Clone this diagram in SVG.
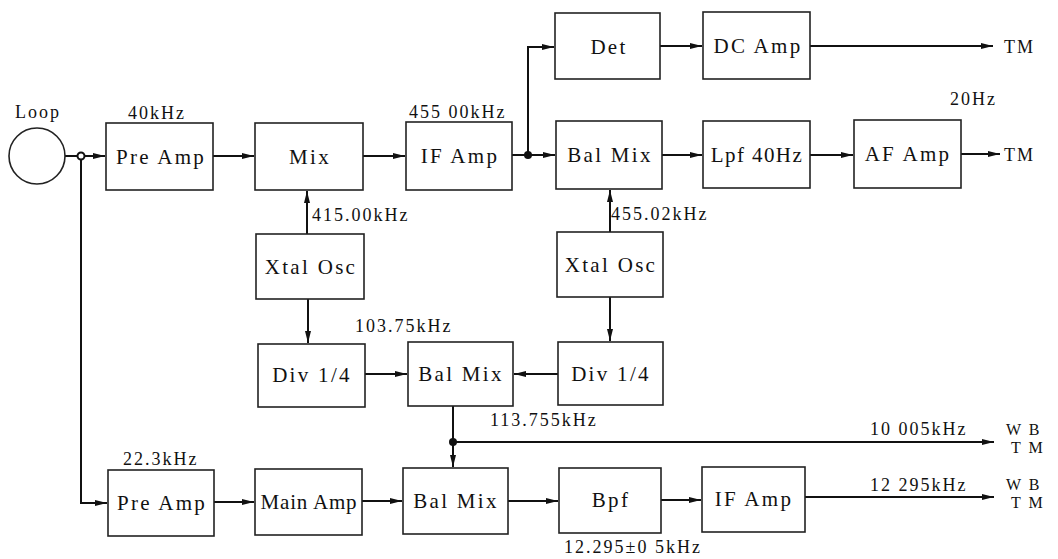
<svg xmlns="http://www.w3.org/2000/svg" width="1058" height="559" viewBox="0 0 1058 559">
<style>
.b{fill:#fff;stroke:#222;stroke-width:1.6}
.t{font-size:21px;fill:#111;text-anchor:middle;letter-spacing:2.3px}
.l{font-size:18px;fill:#111;letter-spacing:2px}
.w{font-size:16px;fill:#111;letter-spacing:2px}
.c{fill:none;stroke:#111;stroke-width:2}
</style>
<defs>
<marker id="a" viewBox="0 0 12 8" refX="12" refY="4" markerWidth="12" markerHeight="8" markerUnits="userSpaceOnUse" orient="auto">
<path d="M0,1 L12,4 L0,7 Z" fill="#111"/>
</marker>
</defs>
<rect width="1058" height="559" fill="#fff"/>
<g id="connectors">
<path class="c" d="M65,156 H105" marker-end="url(#a)"/>
<path class="c" d="M81,156 V503 H107" marker-end="url(#a)"/>
<path class="c" d="M213,156 H254" marker-end="url(#a)"/>
<path class="c" d="M363,156 H405" marker-end="url(#a)"/>
<path class="c" d="M512,155 H555" marker-end="url(#a)"/>
<path class="c" d="M528,155 V47 H554" marker-end="url(#a)"/>
<path class="c" d="M660,46 H702" marker-end="url(#a)"/>
<path class="c" d="M810,46 H993" marker-end="url(#a)"/>
<path class="c" d="M662,155 H702" marker-end="url(#a)"/>
<path class="c" d="M810,155 H853" marker-end="url(#a)"/>
<path class="c" d="M961,154 H1000" marker-end="url(#a)"/>
<path class="c" d="M307,234 V191" marker-end="url(#a)"/>
<path class="c" d="M610,232 V190" marker-end="url(#a)"/>
<path class="c" d="M308,299 V343" marker-end="url(#a)"/>
<path class="c" d="M610,297 V341" marker-end="url(#a)"/>
<path class="c" d="M365,374 H407" marker-end="url(#a)"/>
<path class="c" d="M558,374 H514" marker-end="url(#a)"/>
<path class="c" d="M453,406 V467" marker-end="url(#a)"/>
<path class="c" d="M453,442 H994" marker-end="url(#a)"/>
<path class="c" d="M214,502 H254" marker-end="url(#a)"/>
<path class="c" d="M362,501 H402" marker-end="url(#a)"/>
<path class="c" d="M508,501 H558" marker-end="url(#a)"/>
<path class="c" d="M661,500 H701" marker-end="url(#a)"/>
<path class="c" d="M805,497 H994" marker-end="url(#a)"/>
<circle cx="81" cy="156" r="3.5" fill="#fff" stroke="#111" stroke-width="2"/>
<circle cx="528" cy="155" r="4" fill="#111"/>
<circle cx="453" cy="442" r="4" fill="#111"/>
</g>
<g id="loop"><circle cx="37" cy="156" r="28" fill="none" stroke="#222" stroke-width="1.6"/><text font-family="Liberation Serif" class="l" x="15" y="118">Loop</text></g>
<g id="preamp1"><rect class="b" x="106" y="123" width="107" height="67"/><text font-family="Liberation Serif" class="t" x="161" y="164">Pre Amp</text><text font-family="Liberation Serif" class="l" x="128" y="119">40kHz</text></g>
<g id="mix"><rect class="b" x="255" y="123" width="108" height="67"/><text font-family="Liberation Serif" class="t" x="310" y="164">Mix</text></g>
<g id="ifamp1"><rect class="b" x="406" y="122" width="106" height="68"/><text font-family="Liberation Serif" class="t" x="460" y="163">IF Amp</text><text font-family="Liberation Serif" class="l" x="409" y="118">455 00kHz</text></g>
<g id="det"><rect class="b" x="555" y="13" width="105" height="66"/><text font-family="Liberation Serif" class="t" x="609" y="54">Det</text></g>
<g id="dcamp"><rect class="b" x="703" y="12" width="107" height="67"/><text font-family="Liberation Serif" class="t" x="758" y="53">DC Amp</text><text font-family="Liberation Serif" class="l" x="1004" y="53">TM</text></g>
<g id="balmix1"><rect class="b" x="556" y="121" width="106" height="68"/><text font-family="Liberation Serif" class="t" x="610" y="162">Bal Mix</text></g>
<g id="lpf"><rect class="b" x="703" y="121" width="107" height="67"/><text font-family="Liberation Serif" class="t" x="757" y="162" style="letter-spacing:1.4px">Lpf 40Hz</text></g>
<g id="afamp"><rect class="b" x="854" y="120" width="107" height="68"/><text font-family="Liberation Serif" class="t" x="908" y="161">AF Amp</text><text font-family="Liberation Serif" class="l" x="950" y="105">20Hz</text><text font-family="Liberation Serif" class="l" x="1004" y="161">TM</text></g>
<g id="xtal1"><rect class="b" x="256" y="234" width="108" height="65"/><text font-family="Liberation Serif" class="t" x="311" y="274">Xtal Osc</text><text font-family="Liberation Serif" class="l" x="312" y="221">415.00kHz</text></g>
<g id="xtal2"><rect class="b" x="557" y="232" width="106" height="65"/><text font-family="Liberation Serif" class="t" x="611" y="272">Xtal Osc</text><text font-family="Liberation Serif" class="l" x="611" y="220">455.02kHz</text></g>
<g id="div1"><rect class="b" x="258" y="344" width="107" height="63"/><text font-family="Liberation Serif" class="t" x="312" y="382">Div 1/4</text><text font-family="Liberation Serif" class="l" x="355" y="332">103.75kHz</text></g>
<g id="balmix2"><rect class="b" x="408" y="342" width="105" height="64"/><text font-family="Liberation Serif" class="t" x="461" y="381">Bal Mix</text><text font-family="Liberation Serif" class="l" x="490" y="426">113.755kHz</text></g>
<g id="div2"><rect class="b" x="558" y="342" width="105" height="63"/><text font-family="Liberation Serif" class="t" x="611" y="381">Div 1/4</text></g>
<g id="out1"><text font-family="Liberation Serif" class="l" x="870" y="435">10 005kHz</text><text font-family="Liberation Serif" class="w" x="1006" y="435">W B</text><text font-family="Liberation Serif" class="w" x="1011" y="453">T M</text></g>
<g id="preamp2"><rect class="b" x="108" y="470" width="106" height="66"/><text font-family="Liberation Serif" class="t" x="162" y="510">Pre Amp</text><text font-family="Liberation Serif" class="l" x="123" y="465">22.3kHz</text></g>
<g id="mainamp"><rect class="b" x="255" y="469" width="107" height="66"/><text font-family="Liberation Serif" class="t" x="309" y="509" style="letter-spacing:0.8px">Main Amp</text></g>
<g id="balmix3"><rect class="b" x="403" y="468" width="105" height="66"/><text font-family="Liberation Serif" class="t" x="456" y="508">Bal Mix</text></g>
<g id="bpf"><rect class="b" x="559" y="468" width="102" height="65"/><text font-family="Liberation Serif" class="t" x="611" y="507">Bpf</text><text font-family="Liberation Serif" class="l" x="564" y="553">12.295±0 5kHz</text></g>
<g id="ifamp2"><rect class="b" x="702" y="467" width="103" height="65"/><text font-family="Liberation Serif" class="t" x="754" y="506">IF Amp</text><text font-family="Liberation Serif" class="l" x="870" y="491">12 295kHz</text><text font-family="Liberation Serif" class="w" x="1006" y="490">W B</text><text font-family="Liberation Serif" class="w" x="1011" y="508">T M</text></g>
</svg>
